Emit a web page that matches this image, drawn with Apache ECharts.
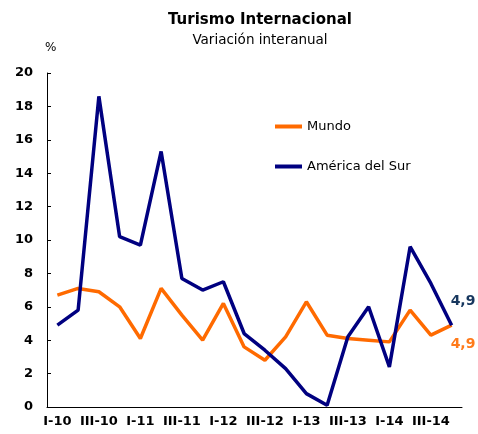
<!DOCTYPE html>
<html>
<head>
<meta charset="utf-8">
<script src="https://cdn.jsdelivr.net/npm/echarts@6/dist/echarts.min.js"></script>
<style>
  html, body { margin: 0; padding: 0; background: #fff; }
  #main { width: 478px; height: 434px; }
</style>
</head>
<body>
<div id="main"></div>
<script>
// trimestres I-10 .. IV-14
var quarters = ['I-10','II-10','III-10','IV-10','I-11','II-11','III-11','IV-11',
  'I-12','II-12','III-12','IV-12','I-13','II-13','III-13','IV-13',
  'I-14','II-14','III-14','IV-14'];
var mundo = [6.7, 7.1, 6.9, 6.0, 4.1, 7.1, 5.5, 4.0, 6.2, 3.6,
  2.8, 4.2, 6.3, 4.3, 4.1, 4.0, 3.9, 5.8, 4.3, 4.9];
var sur = [4.9, 5.8, 18.6, 10.2, 9.7, 15.3, 7.7, 7.0, 7.5, 4.4,
  3.4, 2.3, 0.8, 0.1, 4.2, 6.0, 2.4, 9.6, 7.4, 4.9];
var yTicks = [0, 20, 2];

var font = 'DejaVu Sans';
var orange = '#ff6a00', navy = '#000080';

function endLabel(color, dy) {
  return {
    show: true, distance: 0, offset: [-1, dy],
    formatter: function (p) { return String(p.value).replace('.', ','); },
    color: color, fontFamily: font, fontWeight: 'bold', fontSize: 14
  };
}

var myChart = echarts.init(document.getElementById('main'));
var option = {
  animation: false,
  title: {
    text: 'Turismo Internacional',
    subtext: 'Variación interanual',
    left: 255, top: 8, textAlign: 'center', itemGap: 5,
    textStyle: { fontFamily: font, fontWeight: 'bold', fontSize: 15, color: '#000' },
    subtextStyle: { fontFamily: font, fontSize: 13.5, color: '#000' }
  },
  legend: {
    orient: 'vertical', left: 270, top: 115, itemGap: 27,
    itemWidth: 27, itemHeight: 4, icon: 'rect',
    textStyle: { fontFamily: font, fontSize: 13, color: '#000' },
    data: ['Mundo', 'América del Sur']
  },
  grid: { left: 47, right: 16, top: 73, bottom: 27, containLabel: false },
  xAxis: {
    type: 'category', data: quarters, boundaryGap: true,
    axisLine: { lineStyle: { color: '#000', width: 1 } },
    axisTick: { inside: true, length: 4, interval: 0, lineStyle: { color: '#000' } },
    axisLabel: { interval: 1, fontFamily: font, fontWeight: 'bold', fontSize: 13, color: '#000', margin: 8 }
  },
  yAxis: {
    type: 'value', min: yTicks[0], max: yTicks[1], interval: yTicks[2],
    name: '%', nameLocation: 'end', nameGap: 19,
    nameTextStyle: { fontFamily: font, fontSize: 12, color: '#000', align: 'left', padding: [0, 0, 0, -2] },
    splitLine: { show: false },
    axisLine: { show: true, lineStyle: { color: '#000', width: 1 } },
    axisTick: { show: true, inside: true, length: 4, lineStyle: { color: '#000' } },
    axisLabel: { fontFamily: font, fontWeight: 'bold', fontSize: 13, color: '#000', margin: 14 }
  },
  series: [
    {
      name: 'Mundo', type: 'line', data: mundo,
      symbol: 'none', lineStyle: { color: orange, width: 3.5 }, itemStyle: { color: orange },
      endLabel: endLabel('#ff7a1a', 19)
    },
    {
      name: 'América del Sur', type: 'line', data: sur,
      symbol: 'none', lineStyle: { color: navy, width: 3.5 }, itemStyle: { color: navy },
      endLabel: endLabel('#17375e', -24)
    }
  ]
};
myChart.setOption(option);
</script>
</body>
</html>
